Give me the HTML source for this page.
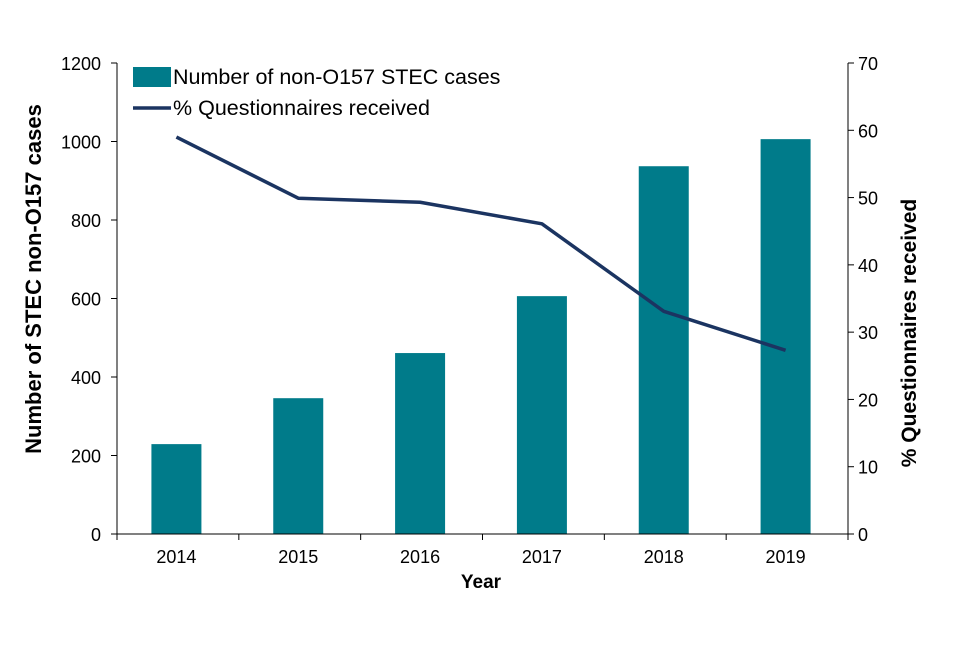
<!DOCTYPE html>
<html><head><meta charset="utf-8"><style>
body{margin:0;background:#fff}
svg text{font-family:"Liberation Sans",Arial,sans-serif;fill:#000}
</style></head><body>
<svg id="chart" width="960" height="640"></svg>
<script>
const categories=["2014","2015","2016","2017","2018","2019"];
const caseCounts=[229,346,461,606,937,1006];
const questionnairePct=[59,49.9,49.3,46.1,33.1,27.3];
const leftTicks=[0,200,400,600,800,1000,1200];
const rightTicks=[0,10,20,30,40,50,60,70];

const NS="http://www.w3.org/2000/svg";
const svg=document.getElementById("chart");
const X0=117,X1=848,Y0=534,Y1=63;
const band=(X1-X0)/categories.length;
const xC=i=>X0+band*(i+0.5)-1.5;
const yL=v=>Y0-(v/1200)*(Y0-Y1);
const yR=v=>Y0-(v/70)*(Y0-Y1);
function mk(tag,attrs,text){const e=document.createElementNS(NS,tag);for(const k in attrs)e.setAttribute(k,attrs[k]);if(text!==undefined)e.textContent=text;svg.appendChild(e);return e;}

categories.forEach((c,i)=>{
  const b=mk("rect",{x:xC(i)-25,y:yL(caseCounts[i]),width:50,height:Y0-yL(caseCounts[i]),fill:"#007B8A"});
  
  
});
const pts=questionnairePct.map((v,i)=>xC(i)+","+yR(v)).join(" ");
const ln=mk("polyline",{points:pts,fill:"none",stroke:"#1B3461","stroke-width":3.5,"stroke-linejoin":"round"});



mk("line",{x1:X0,y1:Y1,x2:X0,y2:Y0,stroke:"#000","stroke-width":1});
mk("line",{x1:X1,y1:Y1,x2:X1,y2:Y0,stroke:"#000","stroke-width":1});
mk("line",{x1:X0,y1:Y0,x2:X1,y2:Y0,stroke:"#000","stroke-width":1});
leftTicks.forEach(v=>{
  mk("line",{x1:X0-6,y1:yL(v),x2:X0,y2:yL(v),stroke:"#000"});
  const t=mk("text",{x:101,y:yL(v)+7,"text-anchor":"end","font-size":18},v);
  
  
});
rightTicks.forEach(v=>{
  mk("line",{x1:X1,y1:yR(v),x2:X1+6,y2:yR(v),stroke:"#000"});
  const t=mk("text",{x:858,y:yR(v)+7,"text-anchor":"start","font-size":18},v);
  
  
});
for(let i=0;i<=categories.length;i++)mk("line",{x1:X0+band*i,y1:Y0,x2:X0+band*i,y2:Y0+6,stroke:"#000"});
categories.forEach((c,i)=>{
  const t=mk("text",{x:xC(i),y:563,"text-anchor":"middle","font-size":18},c);
  
  
});
</script>
<svg style="position:absolute;left:0;top:0" width="960" height="640">
<text x="481" y="588" text-anchor="middle" font-size="19" font-weight="bold">Year</text>
<text transform="translate(41,279) rotate(-90)" text-anchor="middle" font-size="22" font-weight="bold">Number of STEC non-O157 cases</text>
<text transform="translate(916,333) rotate(-90)" text-anchor="middle" font-size="21" font-weight="bold">% Questionnaires received</text>
<g>
<rect x="133" y="67" width="38" height="20" fill="#007B8A"/>
<text x="173" y="84" font-size="21.5">Number of non-O157 STEC cases</text>
<line x1="133" y1="108" x2="171" y2="108" stroke="#1B3461" stroke-width="3.5"/>
<text x="173" y="115" font-size="21.5">% Questionnaires received</text>
</g>
</svg>
</body></html>
